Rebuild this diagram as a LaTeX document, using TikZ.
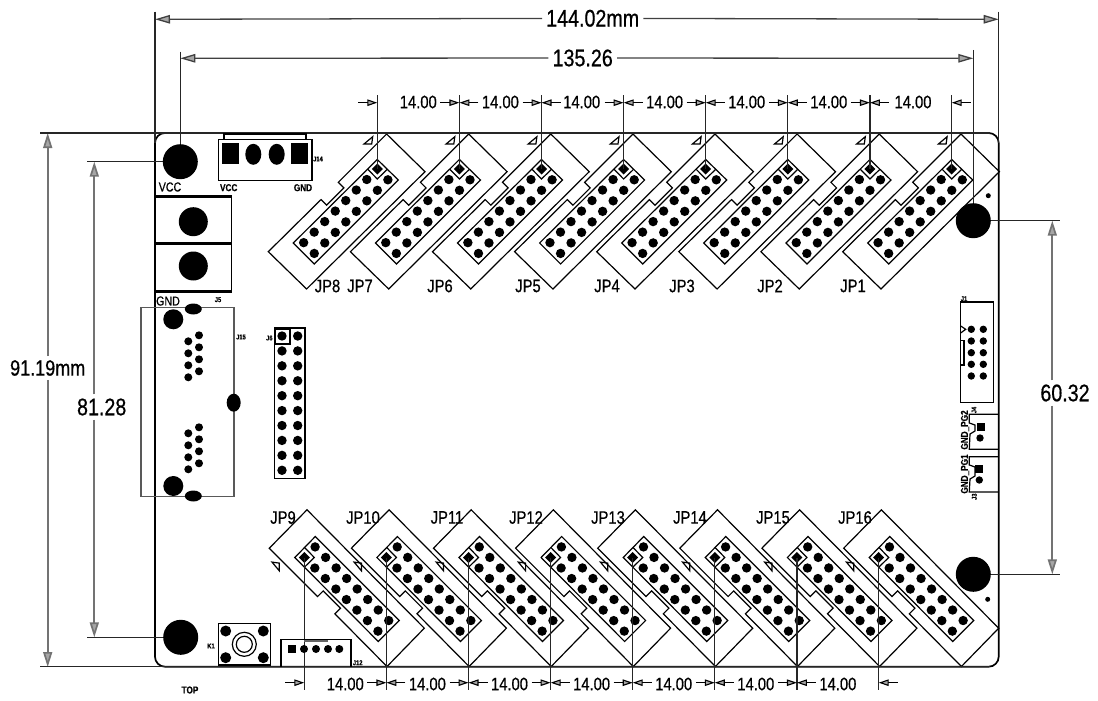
\documentclass[tikz,border=0pt]{standalone}
\usepackage{fontspec}
\usepackage{tikz}
\usetikzlibrary{arrows.meta}
\newfontfamily\dimfont[FakeStretch=0.82, FakeBold=0.6]{Liberation Sans}
\tikzset{
  biglabel/.style = {font=\dimfont\fontsize{24}{24}\selectfont, inner sep=4pt},
  dimlabel/.style = {font=\dimfont\fontsize{18}{18}\selectfont, inner sep=0pt},
  jplabel/.style = {font=\dimfont\fontsize{18}{18}\selectfont, inner sep=0pt},
  midlabel/.style = {font=\dimfont\fontsize{13}{13}\selectfont, inner sep=0pt},
  pinlabel/.style = {font=\dimfont\bfseries\fontsize{10}{10}\selectfont, inner sep=0pt},
  tinylabel/.style = {font=\dimfont\bfseries\fontsize{7}{7}\selectfont, inner sep=0pt},
  outline/.style = {draw=black, line width=1.2pt},
  bigdim/.style = {line width=1.3pt, draw=black!75, -{Triangle[open, length=15pt, width=8.5pt, fill=black!35]}},
  sidedim/.style = {line width=1.7pt, draw=black!55, -{Triangle[open, length=15pt, width=9pt, fill=black!35]}},
  smalldim/.style = {line width=1.1pt, -{Triangle[open, length=10pt, width=6.5pt, fill=black!35]}},
  extline/.style = {line width=1.2pt, draw=black!85}
}
\newcommand{\jpshape}{
  \draw[outline] (9.3,-35) -- (47.7,2.7) -- (-70.7,120) -- (-109,82.7) -- (-56.3,30.6) -- (-50.7,36.2) -- (-33.4,18.9) -- (-39,13.3) -- cycle;
  \draw[outline] (0,-9.5) -- (21,11) -- (-63,95) -- (-84,74) -- cycle;
  \draw[outline] (-9.5,0.3) -- (0,10) -- (10,0.3);
  \draw[outline] (-13.3,-25) -- (-4.6,-32.3) -- (-5.6,-25) -- cycle;
  \fill (0,-5.5) -- (5.5,0) -- (0,5.5) -- (-5.5,0) -- cycle;
  \foreach \k in {1,...,7}
    \fill ({-10.52*\k},{10.52*\k}) circle[radius=4.7];
  \foreach \k in {0,...,7}
    \fill ({10.6-10.52*\k},{10.8+10.52*\k}) circle[radius=4.7];
}
\begin{document}
\begin{tikzpicture}[x=1pt, y=-1pt]
\useasboundingbox (0,0) rectangle (1098,701);
\draw[line width=1.7pt, rounded corners=10pt] (155,133) rectangle (998.7,666.7);

\foreach \x in {377.3,459.4,541.5,623.6,705.7,787.8,869.9,951.7} {
  \begin{scope}[shift={(\x,169)}]
    \jpshape
  \end{scope}
  \draw[extline] (\x,95) -- (\x,169);
}
\foreach \x in {304.3,386.4,468.5,550.6,632.7,714.8,796.9,878.7} {
  \begin{scope}[shift={(\x,557.5)}, rotate=90]
    \jpshape
  \end{scope}
  \draw[extline] (\x,557.5) -- (\x,690);
}
\foreach \n/\x in {8/327.5,7/360,6/440,5/528,4/607,3/682,2/770,1/853}
  \node[jplabel] (jp\n) at (\x,286) {JP\n};
\foreach \n/\x in {9/283,10/363,11/447,12/526,13/608,14/690,15/773,16/855}
  \node[jplabel] (jp\n) at (\x,517.5) {JP\n};

\foreach \x in {418.3,500.4,581.7,664.6,746.7,828.8,913} {
  \node[dimlabel] at (\x,102) {14.00};
}
\foreach \x in {345.3,427.4,509.5,591.6,673.7,755.8,837.9} {
  \node[dimlabel] at (\x,684) {14.00};
}
\foreach \x in {377.3,459.4,541.5,623.6,705.7,787.8,869.9}
  \draw[smalldim] (\x-19,102.7) -- (\x,102.7);
\foreach \x in {459.4,541.5,623.6,705.7,787.8,869.9,951.7}
  \draw[smalldim] (\x+19,102.7) -- (\x,102.7);
\foreach \x in {304.3,386.4,468.5,550.6,632.7,714.8,796.9}
  \draw[smalldim] (\x-19,682.7) -- (\x,682.7);
\foreach \x in {386.4,468.5,550.6,632.7,714.8,796.9,878.7}
  \draw[smalldim] (\x+19,682.7) -- (\x,682.7);

\coordinate (toplt) at (155,19.3);
\coordinate (toprt) at (998.7,19.3);
\coordinate (holelt) at (180.3,58.3);
\coordinate (holert) at (973.3,58.3);
\coordinate (boardtop) at (47.7,133);
\coordinate (boardbot) at (47.7,667);
\coordinate (holetop) at (94.3,161.7);
\coordinate (holebot) at (94.3,637.3);
\coordinate (nehole) at (1052.3,220.7);
\coordinate (sehole) at (1052.3,574.3);
\node[biglabel] (width) at (592.7,18.3) {144.02mm};
\node[biglabel] (pitch) at (582.7,58) {135.26};
\node[biglabel, font=\dimfont\fontsize{22}{22}\selectfont] (height) at (47.7,368) {91.19mm};
\node[biglabel] (span) at (101.7,407) {81.28};
\node[biglabel] (gap) at (1065,393) {60.32};
\draw[bigdim] (width) -- (toplt);
\draw[bigdim] (width) -- (toprt);
\draw[bigdim] (pitch) -- (holelt);
\draw[bigdim] (pitch) -- (holert);
\draw[sidedim] (height.north -| boardtop) -- (boardtop);
\draw[sidedim] (height.south -| boardbot) -- (boardbot);
\draw[sidedim] (span.north -| holetop) -- (holetop);
\draw[sidedim] (span.south -| holebot) -- (holebot);
\draw[sidedim] (gap.north -| nehole) -- (nehole);
\draw[sidedim] (gap.south -| sehole) -- (sehole);
\draw[extline] (155,11.7) -- (155,143);
\draw[extline] (998.7,11.7) -- (998.7,143);
\draw[extline] (180.3,51.7) -- (180.3,161.7);
\draw[extline] (973.3,50) -- (973.3,220.7);
\draw[extline] (40,133) -- (990,133);
\draw[extline] (40,666.7) -- (990,666.7);
\draw[extline] (87,161.7) -- (180.3,161.7);
\draw[extline] (87,637.3) -- (180.3,637.3);
\draw[extline] (973.3,220.7) -- (1060,220.7);
\draw[extline] (973.3,574.3) -- (1060,574.3);

\foreach \x/\y in {180.3/161.7,973.3/220.7,973.3/574.3,180.7/637.3}
  \fill (\x,\y) circle[radius=17.5];
\fill (988.3,195.7) circle[radius=2.5];
\fill (987.7,599.3) circle[radius=2.5];

\draw[outline] (224,139.3) -- (224,134) -- (306,134) -- (306,139.3);
\draw[outline] (218.3,139.3) rectangle (312,180.7);
\fill (222.3,143.3) rectangle (239,164.3);
\fill (291,143.3) rectangle (307.7,164.3);
\fill (253.3,154.3) ellipse[x radius=8, y radius=10.5];
\fill (276.7,154.3) ellipse[x radius=8, y radius=10.5];
\node[tinylabel] (j14) at (318,159) {J14};
\node[pinlabel] (vccsmall) at (228.7,187.7) {VCC};
\node[pinlabel] (gndsmall) at (303,187.7) {GND};
\node[midlabel] (vcc) at (170,187) {VCC};
\node[midlabel] (gnd) at (168,301) {GND};

\draw[line width=3pt] (155,196.7) -- (231.7,196.7);
\draw[line width=3pt] (155,243.7) -- (231.7,243.7);
\draw[line width=3pt] (155,291.7) -- (231.7,291.7);
\draw[outline] (231.7,196.7) -- (231.7,291.7);
\fill (193.3,221.7) circle[radius=14.5];
\fill (193.3,266) circle[radius=14.5];
\node[tinylabel] (j5) at (218,299.7) {J5};

\draw[line width=1.3pt, draw=black!65] (141,307.3) rectangle (234,496.7);
\fill (193.3,309) ellipse[x radius=8.5, y radius=5.5];
\fill (193.3,496) ellipse[x radius=8.5, y radius=5.5];
\fill (233.7,402.7) ellipse[x radius=7, y radius=9];
\fill (173.3,319.3) circle[radius=10];
\fill (173.3,486) circle[radius=10];
\foreach \y in {341.3,353.3,365.3,377.3,433.3,445.3,457.3,469.3}
  \fill (188.3,\y) circle[radius=4];
\foreach \y in {335.3,347.3,359.3,371.3,427.3,439.3,451.3,463.3}
  \fill (199,\y) circle[radius=4];
\node[tinylabel] (j15) at (241,337) {J15};

\draw[outline] (274.3,328) rectangle (305,478.3);
\draw[outline] (275.5,329.5) rectangle (290,344);
\foreach \k in {0,...,9} {
  \fill (282,{336+14.92*\k}) circle[radius=4.7];
  \fill (297.7,{336+14.92*\k}) circle[radius=4.7];
}
\node[tinylabel] (j6) at (269.3,338) {J6};

\draw[outline] (218.3,623.3) rectangle (270.7,665);
\foreach \x/\y in {225.7/631,263.3/631,225.7/657.7,263.3/657.7}
  \fill (\x,\y) circle[radius=5.5];
\draw[outline] (244.3,644.3) circle[radius=12];
\draw[outline] (244.3,644.3) circle[radius=8];
\node[tinylabel] (k1) at (211,646) {K1};

\draw[outline] (281,666.7) -- (281,639.3) -- (351,639.3) -- (351,666.7);
\draw[line width=1.5pt, draw=black!60] (304,641) -- (328,641);
\fill (288.3,645) rectangle (296.3,653);
\foreach \x in {304,316,328,339.3}
  \fill (\x,649) circle[radius=4];
\node[tinylabel] (j12) at (357.7,662.7) {J12};
\node[pinlabel] (toplabel) at (190,690) {TOP};

\draw[outline] (960.7,302) -- (993.3,302) -- (993.3,402.3) -- (960.7,402.3) -- cycle;
\draw[outline] (960.7,326) -- (965.7,329.3) -- (960.7,333);
\draw[outline] (960.7,340.7) rectangle (964,365);
\foreach \y in {329.3,341,352.7,364.3,376} {
  \fill (971.3,\y) circle[radius=3.7];
  \fill (983.3,\y) circle[radius=3.7];
}
\node[tinylabel] (j1) at (964,298.7) {J1};

\draw[outline] (998.7,414.3) -- (969.3,414.3) -- (969.3,423) -- (975,425) -- (975,431) -- (970,434) -- (969.3,449.3) -- (998.7,449.3);
\fill (976.7,422.7) rectangle (984.7,430.7);
\fill (980,438) circle[radius=3.7];
\node[pinlabel, rotate=90] (pg2) at (965,430) {GND\_PG2};
\node[tinylabel, rotate=90] (j4) at (974,410) {J4};

\draw[outline] (998.7,456.7) -- (969.3,456.7) -- (969.3,465) -- (975,467) -- (975,476) -- (970,479) -- (969.3,492) -- (998.7,492);
\fill (975,465) rectangle (983,473);
\fill (979.3,480) circle[radius=3.7];
\node[pinlabel, rotate=90] (pg1) at (965,474) {GND\_PG1};
\node[tinylabel, rotate=90] (j3) at (974.3,496.7) {J3};
\end{tikzpicture}
\end{document}
